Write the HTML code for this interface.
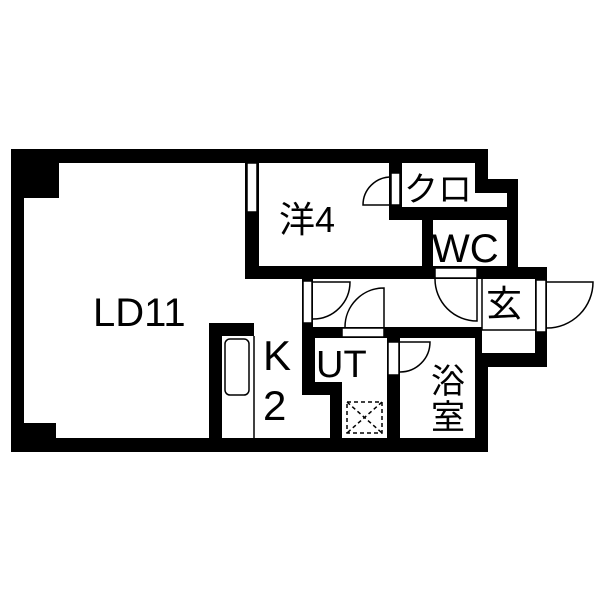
<!DOCTYPE html>
<html><head><meta charset="utf-8"><style>
html,body{margin:0;padding:0;background:#fff;}
svg{display:block;}
text{font-family:"Liberation Sans","Noto Sans CJK JP",sans-serif;fill:#000;}
</style></head><body>
<svg width="600" height="600" viewBox="0 0 600 600" xmlns="http://www.w3.org/2000/svg">
<rect width="600" height="600" fill="#fff"/>
<polygon points="11,149 488,149 488,179 518,179 518,267 547,267 547,367 488,367 488,452 11,452" fill="#000"/>
<g fill="#fff">
<polygon points="59,163 245,163 245,279 254,279 254,323 209,323 209,438 56,438 56,423 24,423 24,198 59,198"/>
<rect x="222" y="336" width="32" height="102"/>
<rect x="254" y="279" width="48" height="159"/>
<rect x="300" y="395" width="30" height="43"/>
<rect x="313" y="279" width="170" height="48"/>
<polygon points="259,163 389,163 389,220 422,220 422,266 259,266"/>
<polygon points="402,163 475,163 475,193 507,193 507,207 402,207"/>
<rect x="433" y="220" width="74" height="46"/>
<rect x="482" y="279" width="53" height="74"/>
<polygon points="315,338 387,338 387,438 342,438 342,382 315,382"/>
<rect x="400" y="338" width="75" height="100"/>
<rect x="247" y="163" width="10" height="49"/>
<rect x="303" y="281" width="9" height="42"/>
<rect x="342" y="328" width="42" height="9"/>
<rect x="388" y="342" width="11" height="33"/>
<rect x="435" y="268" width="42" height="10"/>
<rect x="536" y="280" width="10" height="52"/>
<rect x="391" y="173" width="9" height="32"/>
</g>
<g fill="none" stroke="#000" stroke-width="1.5">
<rect x="247" y="163" width="10" height="49"/>
<rect x="303" y="281" width="9" height="42"/>
<rect x="342" y="328" width="42" height="9"/>
<rect x="388" y="342" width="11" height="33"/>
<rect x="435" y="268" width="42" height="10"/>
<rect x="536" y="280" width="10" height="52"/>
<rect x="391" y="173" width="9" height="32"/>
<line x1="254" y1="336" x2="254" y2="438"/>
<rect x="225" y="339" width="24" height="56" rx="5"/>
<path d="M313,282 L350,282 A37,37 0 0 1 313,319"/>
<path d="M384,327 L384,288 A39,39 0 0 0 345,327"/>
<path d="M400,342 L430,342 A30,30 0 0 1 400,372"/>
<path d="M477,279 L477,321 A42,42 0 0 1 435,279"/>
<path d="M547,282 L593,282 A46,46 0 0 1 547,328"/>
<path d="M391,205 L363,205 A28,28 0 0 1 391,177"/>
<line x1="482" y1="279" x2="482" y2="330"/>
<line x1="482" y1="330" x2="535" y2="330"/>
</g>
<g fill="none" stroke="#000" stroke-width="1.5" stroke-dasharray="4,3">
<rect x="347" y="402" width="35" height="31"/>
<line x1="347" y1="402" x2="382" y2="433"/>
<line x1="382" y1="402" x2="347" y2="433"/>
</g>
<g font-size="40">
<text x="93" y="326">LD11</text>
<text x="263" y="370" font-size="42">K</text>
<text x="263" y="420" font-size="42">2</text>
<text x="279" y="232" font-size="36">洋4</text>
<text x="404" y="201" font-size="34">クロ</text>
<text x="432" y="262" font-size="40">WC</text>
<text x="486" y="316" font-size="36">玄</text>
<text x="316" y="377" font-size="38">UT</text>
<text x="431" y="393" font-size="34">浴</text>
<text x="431" y="429" font-size="34">室</text>
</g>
</svg>
</body></html>
